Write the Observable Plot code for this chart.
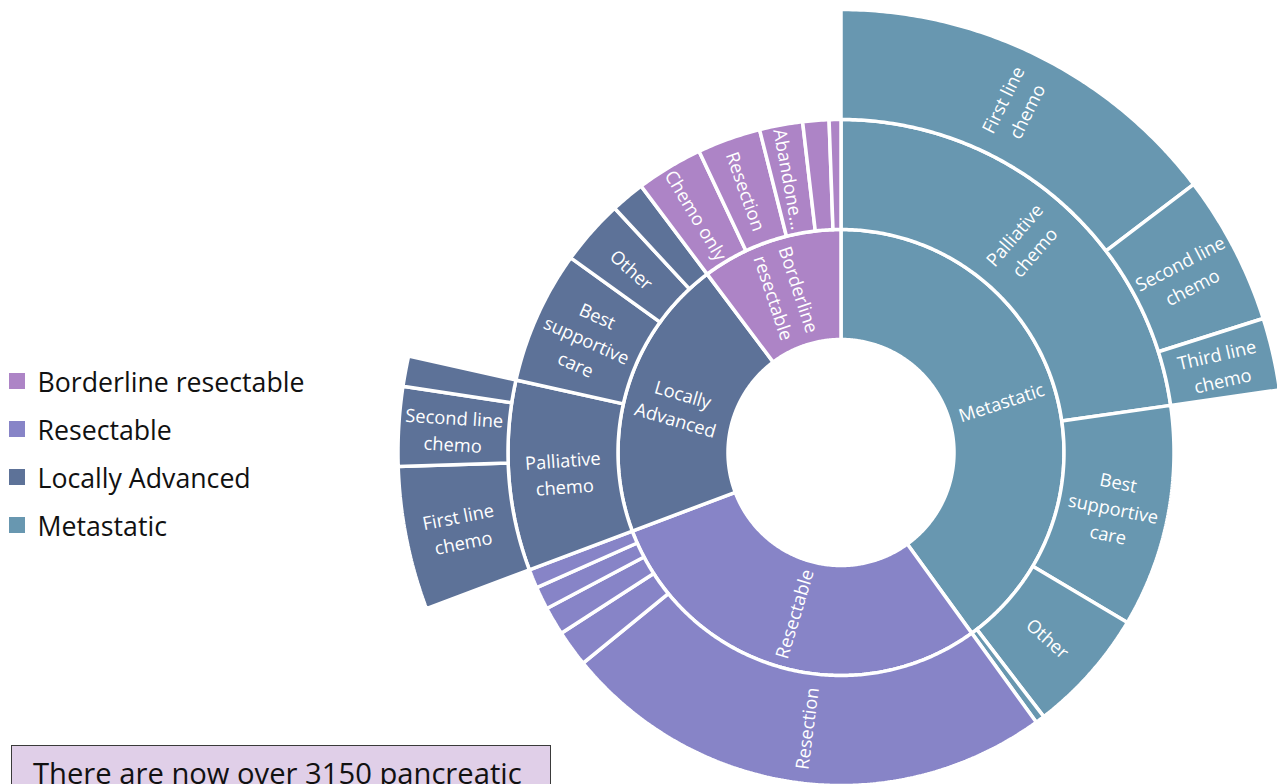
<!DOCTYPE html>
<html>
<head>
<meta charset="utf-8">
<script src="https://cdn.jsdelivr.net/npm/d3@7"></script>
<script src="https://cdn.jsdelivr.net/npm/@observablehq/plot@0.6"></script>
<style>
  html, body { margin: 0; padding: 0; background: #fff; }
  body { width: 1277px; height: 784px; overflow: hidden; position: relative; font-family: "Open Sans", sans-serif; }
  #chart { position: absolute; left: 0; top: 0; }
  #legend { position: absolute; left: 9px; top: 357px; }
  .item { display: flex; align-items: center; height: 48px; font-size: 26.7px; color: #111; }
  .sw { width: 15.5px; height: 15.5px; margin-right: 13px; flex: none; }
  #note { position: absolute; left: 11px; top: 745px; width: 540px; height: 100px; box-sizing: border-box;
          background: #E0CFE8; border: 1px solid #3a3a3a; font-size: 29.2px; line-height: 29px;
          padding: 13px 0 0 21px; color: #111; white-space: nowrap; }
</style>
</head>
<body>
<div id="chart"></div>
<div id="legend"></div>
<div id="note"></div>
<script>
// ---------- data ----------
const groups      = ["Metastatic", "Resectable", "Locally Advanced", "Borderline resectable"];
const groupColors = ["#6897B0", "#8784C7", "#5D7298", "#AD84C6"];
const legendOrder = ["Borderline resectable", "Resectable", "Locally Advanced", "Metastatic"];

// one entry per outermost segment; "?" marks small unlabelled categories
const leafGroup  = ["Metastatic","Metastatic","Metastatic","Metastatic","Metastatic","Metastatic",
                    "Resectable","Resectable","Resectable","Resectable","Resectable",
                    "Locally Advanced","Locally Advanced","Locally Advanced","Locally Advanced","Locally Advanced","Locally Advanced",
                    "Borderline resectable","Borderline resectable","Borderline resectable","Borderline resectable","Borderline resectable"];
const leafBranch = ["Palliative chemo","Palliative chemo","Palliative chemo","Best supportive care","Other","?a",
                    "Resection","?a","?b","?c","?d",
                    "Palliative chemo","Palliative chemo","Palliative chemo","Best supportive care","Other","?a",
                    "Chemo only","Resection","Abandoned","?a","?b"];
const leafLine   = ["First line chemo","Second line chemo","Third line chemo","","","",
                    "","","","","",
                    "First line chemo","Second line chemo","?a","","","",
                    "","","","",""];
const leafCount  = [462, 172, 83, 340, 191, 14,
                    759, 56, 43, 35, 29,
                    165, 91, 35, 203, 100, 52,
                    102, 97, 66, 40, 18];

const noteText = "There are now over 3150 pancreatic";

// label text as displayed (wrapped / truncated as in the chart)
const shownLabel = {
  "Locally Advanced": "Locally\nAdvanced",
  "Borderline resectable": "Borderline\nresectable",
  "Palliative chemo": "Palliative\nchemo",
  "Best supportive care": "Best\nsupportive\ncare",
  "First line chemo": "First line\nchemo",
  "Second line chemo": "Second line\nchemo",
  "Third line chemo": "Third line\nchemo",
  "Abandoned": "Abandone..."
};

// ---------- build sunburst sectors ----------
const radii = [113, 223, 333, 443];
const leaves = leafGroup.map((g, i) => ({g, b: leafBranch[i], l: leafLine[i], v: leafCount[i]}));
const total = d3.sum(leaves, d => d.v);
const toDeg = v => v / total * 360;

const sectors = [];
let acc = 0;
for (const g of groups) {
  const gl = leaves.filter(d => d.g === g);
  const gv = d3.sum(gl, d => d.v);
  sectors.push({group: g, name: g, depth: 1, a0: toDeg(acc), a1: toDeg(acc + gv)});
  let bAcc = acc;
  for (const b of [...new Set(gl.map(d => d.b))]) {
    const bl = gl.filter(d => d.b === b);
    const bv = d3.sum(bl, d => d.v);
    sectors.push({group: g, name: b, depth: 2, a0: toDeg(bAcc), a1: toDeg(bAcc + bv)});
    let lAcc = bAcc;
    for (const d of bl) {
      if (d.l) sectors.push({group: g, name: d.l, depth: 3, a0: toDeg(lAcc), a1: toDeg(lAcc + d.v)});
      lAcc += d.v;
    }
    bAcc += bv;
  }
  acc += gv;
}

const pt = (r, a) => ({x: r * Math.sin(a * Math.PI / 180), y: r * Math.cos(a * Math.PI / 180)});
const outline = [];
sectors.forEach((s, i) => {
  const r0 = radii[s.depth - 1], r1 = radii[s.depth];
  const n = Math.max(2, Math.ceil((s.a1 - s.a0) / 0.5));
  const pts = [];
  for (let k = 0; k <= n; k++) pts.push(pt(r1, s.a0 + (s.a1 - s.a0) * k / n));
  for (let k = n; k >= 0; k--) pts.push(pt(r0, s.a0 + (s.a1 - s.a0) * k / n));
  pts.push(pts[0]);
  pts.forEach(p => outline.push({...p, id: i, group: s.group}));
});

const labels = sectors.filter(s => !s.name.startsWith("?")).map(s => {
  const mid = (s.a0 + s.a1) / 2;
  const r = (radii[s.depth - 1] + radii[s.depth]) / 2;
  let rot = mid - 90;
  if (rot > 90) rot -= 180;
  if (rot < -90) rot += 180;
  return {...pt(r, mid), rot, text: shownLabel[s.name] || s.name};
});

// ---------- plot ----------
const W = 1277, H = 784, cx = 840.5, cy = 452;
const chart = Plot.plot({
  width: W, height: H,
  margin: 0,
  x: {domain: [-cx, W - cx], axis: null},
  y: {domain: [cy - H, cy], axis: null},
  color: {domain: groups, range: groupColors},
  style: {fontFamily: "Open Sans", background: "transparent"},
  marks: [
    Plot.line(outline, {x: "x", y: "y", z: "id", fill: "group", stroke: "white", strokeWidth: 3.5, strokeLinejoin: "miter"}),
    Plot.text(labels, {x: "x", y: "y", text: "text", rotate: "rot", fill: "white", fontSize: 18.3, lineHeight: 1.45})
  ]
});
document.getElementById("chart").appendChild(chart);

// legend
const legend = document.getElementById("legend");
for (const g of legendOrder) {
  const item = document.createElement("div");
  item.className = "item";
  const sw = document.createElement("div");
  sw.className = "sw";
  sw.style.background = groupColors[groups.indexOf(g)];
  const t = document.createElement("span");
  t.textContent = g;
  item.appendChild(sw); item.appendChild(t);
  legend.appendChild(item);
}
document.getElementById("note").textContent = noteText;
</script>
</body>
</html>
